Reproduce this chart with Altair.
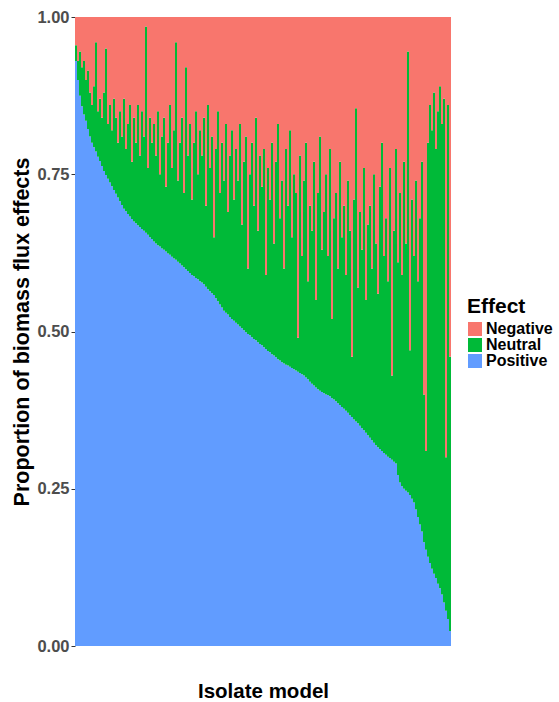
import altair as alt
import pandas as pd

# Proportion of "Positive" effects per isolate (sorted descending, as in the picture)
positive = [
    0.930, 0.900, 0.875, 0.858, 0.845, 0.835, 0.822, 0.810, 0.800, 0.793,
    0.786, 0.778, 0.771, 0.763, 0.755, 0.749, 0.743, 0.737, 0.731, 0.725,
    0.719, 0.713, 0.707, 0.701, 0.695, 0.691, 0.687, 0.683, 0.679, 0.675,
    0.672, 0.669, 0.666, 0.663, 0.660, 0.657, 0.654, 0.650, 0.647, 0.643,
    0.640, 0.637, 0.635, 0.632, 0.630, 0.627, 0.624, 0.622, 0.619, 0.616,
    0.614, 0.611, 0.608, 0.605, 0.602, 0.599, 0.596, 0.593, 0.590, 0.588,
    0.585, 0.583, 0.580, 0.578, 0.575, 0.571, 0.567, 0.564, 0.561, 0.558,
    0.553, 0.548, 0.543, 0.538, 0.533, 0.530, 0.527, 0.523, 0.520, 0.517,
    0.514, 0.511, 0.508, 0.505, 0.502, 0.499, 0.496, 0.494, 0.491, 0.488,
    0.486, 0.483, 0.480, 0.478, 0.475, 0.472, 0.469, 0.467, 0.464, 0.462,
    0.459, 0.456, 0.454, 0.451, 0.449, 0.447, 0.446, 0.444, 0.442, 0.440,
    0.438, 0.436, 0.434, 0.432, 0.430, 0.427, 0.424, 0.420, 0.417, 0.414,
    0.411, 0.408, 0.406, 0.404, 0.402, 0.400, 0.399, 0.397, 0.394, 0.392,
    0.389, 0.386, 0.383, 0.380, 0.377, 0.374, 0.371, 0.367, 0.364, 0.360,
    0.357, 0.354, 0.350, 0.346, 0.343, 0.339, 0.335, 0.331, 0.327, 0.323,
    0.319, 0.316, 0.313, 0.310, 0.307, 0.304, 0.301, 0.299, 0.296, 0.293,
    0.290, 0.272, 0.260, 0.254, 0.250, 0.247, 0.244, 0.240, 0.234, 0.228,
    0.217, 0.205, 0.193, 0.182, 0.165, 0.153, 0.142, 0.132, 0.123, 0.115,
    0.108, 0.099, 0.092, 0.082, 0.069, 0.056, 0.043, 0.024,
]

# Proportion of "Negative" effects per isolate (same order)
negative = [
    0.045, 0.070, 0.055, 0.080, 0.070, 0.100, 0.085, 0.120, 0.140, 0.110,
    0.040, 0.150, 0.130, 0.160, 0.120, 0.050, 0.170, 0.140, 0.180, 0.130,
    0.160, 0.200, 0.150, 0.190, 0.130, 0.210, 0.170, 0.140, 0.230, 0.160,
    0.200, 0.140, 0.220, 0.150, 0.190, 0.015, 0.240, 0.160, 0.200, 0.170,
    0.220, 0.150, 0.250, 0.190, 0.160, 0.270, 0.200, 0.140, 0.240, 0.180,
    0.040, 0.260, 0.200, 0.160, 0.280, 0.080, 0.220, 0.170, 0.290, 0.200,
    0.150, 0.250, 0.180, 0.220, 0.160, 0.300, 0.140, 0.240, 0.190, 0.350,
    0.210, 0.150, 0.280, 0.200, 0.260, 0.170, 0.310, 0.220, 0.180, 0.290,
    0.210, 0.260, 0.170, 0.330, 0.230, 0.190, 0.400, 0.250, 0.200, 0.300,
    0.160, 0.340, 0.220, 0.270, 0.210, 0.410, 0.240, 0.290, 0.200, 0.360,
    0.230, 0.170, 0.320, 0.260, 0.400, 0.210, 0.300, 0.180, 0.350, 0.250,
    0.280, 0.510, 0.220, 0.380, 0.260, 0.200, 0.420, 0.300, 0.340, 0.230,
    0.450, 0.280, 0.190, 0.370, 0.310, 0.250, 0.380, 0.210, 0.480, 0.320,
    0.280, 0.400, 0.230, 0.350, 0.300, 0.410, 0.260, 0.340, 0.540, 0.290,
    0.145, 0.430, 0.310, 0.370, 0.240, 0.450, 0.330, 0.300, 0.400, 0.250,
    0.360, 0.440, 0.270, 0.200, 0.380, 0.320, 0.420, 0.240, 0.570, 0.340,
    0.210, 0.390, 0.280, 0.410, 0.230, 0.360, 0.055, 0.530, 0.290, 0.380,
    0.260, 0.420, 0.320, 0.230, 0.600, 0.690, 0.200, 0.140, 0.180, 0.120,
    0.210, 0.150, 0.110, 0.170, 0.130, 0.700, 0.140, 0.540,
]

effects = ["Negative", "Neutral", "Positive"]
colors = ["#F8766D", "#00BA38", "#619CFF"]
stack_rank = {"Positive": 0, "Neutral": 1, "Negative": 2}
y_ticks = [0.0, 0.25, 0.5, 0.75, 1.0]

rows = []
for i, (p, n) in enumerate(zip(positive, negative)):
    neu = round(1.0 - p - n, 4)
    for eff, val in (("Positive", p), ("Neutral", neu), ("Negative", n)):
        rows.append({"isolate": i, "effect": eff, "value": val,
                     "rank": stack_rank[eff]})
df = pd.DataFrame(rows)

FONT = "Liberation Sans"

chart = alt.Chart(df).mark_bar(strokeWidth=0).encode(
    x=alt.X(
        "isolate:O",
        scale=alt.Scale(paddingInner=0, paddingOuter=0),
        axis=alt.Axis(
            labels=False, ticks=False, domain=False, grid=False,
            title="Isolate model", titleFont=FONT, titleFontSize=20.5,
            titleFontWeight="bold", titleColor="black",
            titleBaseline="alphabetic", titleY=51,
        ),
    ),
    y=alt.Y(
        "value:Q",
        stack="zero",
        scale=alt.Scale(domain=[0, 1], nice=False),
        axis=alt.Axis(
            values=y_ticks, format=".2f", grid=False, domain=False,
            tickSize=4, tickColor="#333333", tickWidth=1,
            labelFont=FONT, labelFontSize=16.5, labelFontWeight="bold",
            labelColor="#4D4D4D", labelPadding=2,
            title="Proportion of biomass flux effects", titleFont=FONT,
            titleFontSize=21.5, titleFontWeight="bold", titleColor="black",
            titleX=-42,
        ),
    ),
    color=alt.Color(
        "effect:N",
        scale=alt.Scale(domain=effects, range=colors),
        legend=alt.Legend(
            title="Effect", orient="none", legendX=392, legendY=279,
            titleFont=FONT, titleFontSize=21, titleFontWeight="bold",
            titleColor="black", titlePadding=4,
            labelFont=FONT, labelFontSize=16, labelFontWeight="bold",
            labelColor="black", labelOffset=3,
            symbolType="square", symbolSize=196, symbolStrokeWidth=0,
            rowPadding=0,
        ),
    ),
    order=alt.Order("rank:Q", sort="ascending"),
).properties(
    width=376,
    height=629,
    padding={"left": 75, "top": 17, "right": 108, "bottom": 56},
    autosize=alt.AutoSizeParams(type="none"),
).configure_view(strokeWidth=0)

chart.save("out.html", embed_options={"renderer": "svg", "actions": False})
